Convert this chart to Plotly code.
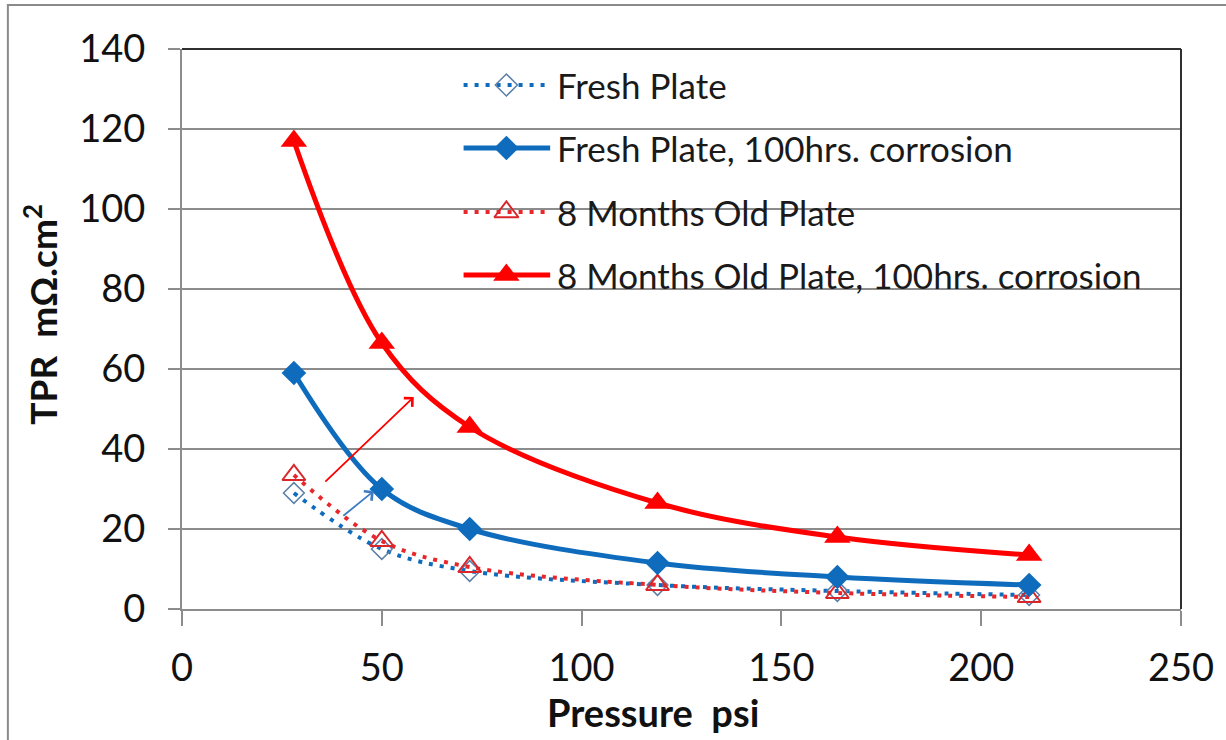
import plotly.graph_objects as go

# Contact resistance (TPR) versus compaction pressure
pressure = [28, 50, 72, 119, 164, 212]
fresh_plate = [29, 15, 9.5, 6, 4.5, 3.5]
fresh_plate_corr = [59, 30, 20, 11.5, 8, 6]
old_plate = [33.5, 17, 10.5, 6, 4, 3]
old_plate_corr = [117, 66.5, 45.5, 26.5, 18, 13.5]

series_names = [
    "Fresh Plate",
    "Fresh Plate, 100hrs. corrosion",
    "8 Months Old Plate",
    "8 Months Old Plate, 100hrs. corrosion",
]

x_ticks = [0, 50, 100, 150, 200, 250]
y_ticks = [0, 20, 40, 60, 80, 100, 120, 140]

BLUE = "#0F6CBD"
RED = "#FF0000"
DOT_RED = "#E8262B"
FONT = "Lato"

W, H = 1226, 740
L, R, T, B = 182, 1186, 49, 609

fig = go.Figure()

# data series
fig.add_trace(go.Scatter(
    x=pressure, y=fresh_plate, mode="lines+markers", name=series_names[0],
    line=dict(color=BLUE, width=4, dash="4px,7px", shape="spline"),
    marker=dict(symbol="diamond-open", size=16, color="#5B7FA8", line=dict(width=1.5)),
))
fig.add_trace(go.Scatter(
    x=pressure, y=old_plate, mode="lines+markers", name=series_names[2],
    line=dict(color=DOT_RED, width=4, dash="4px,7px", shape="spline"),
    marker=dict(symbol="triangle-up-open", size=20, color="#D9262B", line=dict(width=2)),
))
fig.add_trace(go.Scatter(
    x=pressure, y=fresh_plate_corr, mode="lines+markers", name=series_names[1],
    line=dict(color=BLUE, width=5, shape="spline"),
    marker=dict(symbol="diamond", size=19, color=BLUE),
))
fig.add_trace(go.Scatter(
    x=pressure, y=old_plate_corr, mode="lines+markers", name=series_names[3],
    line=dict(color=RED, width=5, shape="spline"),
    marker=dict(symbol="triangle-up", size=23, color=RED),
))

# legend drawn on an overlay axis measured in page pixels
leg_rows = [85, 148, 212, 275]
leg_x0, leg_x1, leg_xm, leg_text = 465, 552, 508, 557
leg_styles = [
    dict(line=dict(color=BLUE, width=4, dash="4px,7px"),
         marker=dict(symbol="diamond-open", size=17, color="#5B7FA8", line=dict(width=1.5))),
    dict(line=dict(color=BLUE, width=5),
         marker=dict(symbol="diamond", size=19, color=BLUE)),
    dict(line=dict(color=DOT_RED, width=4, dash="4px,7px"),
         marker=dict(symbol="triangle-up-open", size=21, color="#D9262B", line=dict(width=2))),
    dict(line=dict(color=RED, width=5),
         marker=dict(symbol="triangle-up", size=23, color=RED)),
]
for row, style in zip(leg_rows, leg_styles):
    fig.add_trace(go.Scatter(
        x=[leg_x0, leg_x1], y=[row, row], mode="lines", xaxis="x2", yaxis="y2",
        line=style["line"], hoverinfo="skip", showlegend=False,
    ))
    fig.add_trace(go.Scatter(
        x=[leg_xm], y=[row], mode="markers", xaxis="x2", yaxis="y2",
        marker=style["marker"], hoverinfo="skip", showlegend=False,
    ))

annotations = []
for row, name in zip(leg_rows, series_names):
    annotations.append(dict(
        x=leg_text, y=row, xref="x2", yref="y2", text=name, showarrow=False,
        xanchor="left", yanchor="middle", font=dict(family=FONT, size=35, color="#1a1a1a"),
    ))

# arrows showing the shift caused by corrosion
annotations.append(dict(
    x=58, y=53, ax=35.5, ay=31.5, xref="x", yref="y", axref="x", ayref="y",
    text="", showarrow=True, arrowhead=4, arrowsize=1.3, arrowwidth=1.8, arrowcolor=RED,
))
annotations.append(dict(
    x=48, y=29.5, ax=40, ay=23, xref="x", yref="y", axref="x", ayref="y",
    text="", showarrow=True, arrowhead=4, arrowsize=1.3, arrowwidth=1.8, arrowcolor="#3A7CC4",
))

# axis titles
annotations.append(dict(
    x=(655 - L) / (R - L), y=(B - 712) / (B - T), xref="paper", yref="paper",
    text="<b>Pressure\u00a0\u00a0psi</b>", showarrow=False, xanchor="center", yanchor="middle",
    font=dict(family=FONT, size=38, color="#111"),
))
annotations.append(dict(
    x=(40 - L) / (R - L), y=(B - 314) / (B - T), xref="paper", yref="paper",
    text="<b>TPR\u00a0\u00a0m\u03a9.cm<sup>2</sup></b>", showarrow=False, textangle=-90,
    xanchor="center", yanchor="middle", font=dict(family=FONT, size=37, color="#111"),
))

shapes = [
    # plot-area frame on top and right
    dict(type="line", xref="paper", yref="paper", x0=0, x1=1, y0=1, y1=1,
         line=dict(color="#303030", width=2)),
    dict(type="line", xref="paper", yref="paper", x0=1, x1=1, y0=0, y1=1,
         line=dict(color="#303030", width=2)),
    # chart border
    dict(type="rect", xref="paper", yref="paper",
         x0=(7 - L) / (R - L), x1=(1240 - L) / (R - L),
         y0=(B - 760) / (B - T), y1=(B - 5) / (B - T),
         line=dict(color="#8a8a8a", width=2), fillcolor="rgba(0,0,0,0)"),
]

fig.update_layout(
    width=W, height=H,
    margin=dict(l=L, r=W - R, t=T, b=H - B),
    paper_bgcolor="white", plot_bgcolor="white",
    showlegend=False,
    annotations=annotations,
    shapes=shapes,
    font=dict(family=FONT, color="#111"),
    xaxis=dict(
        range=[0, 250], tickvals=x_ticks, ticktext=[str(v) for v in x_ticks],
        showgrid=False, zeroline=False, showline=True, linecolor="#8c8c8c", linewidth=2,
        ticks="outside", ticklen=15, tickwidth=2, tickcolor="#8c8c8c",
        tickfont=dict(family=FONT, size=38, color="#111"), ticklabelstandoff=9,
        fixedrange=True,
    ),
    yaxis=dict(
        range=[0, 140], tickvals=y_ticks, ticktext=[str(v) for v in y_ticks],
        showgrid=True, gridcolor="#8c8c8c", gridwidth=1.5, zeroline=False,
        showline=True, linecolor="#8c8c8c", linewidth=2,
        ticks="outside", ticklen=12, tickwidth=2, tickcolor="#8c8c8c",
        tickfont=dict(family=FONT, size=38, color="#111"), ticklabelstandoff=15,
        fixedrange=True,
    ),
    xaxis2=dict(range=[L, R], overlaying="x", visible=False, fixedrange=True),
    yaxis2=dict(range=[B, T], overlaying="y", visible=False, fixedrange=True),
)

fig.write_html("out.html")
